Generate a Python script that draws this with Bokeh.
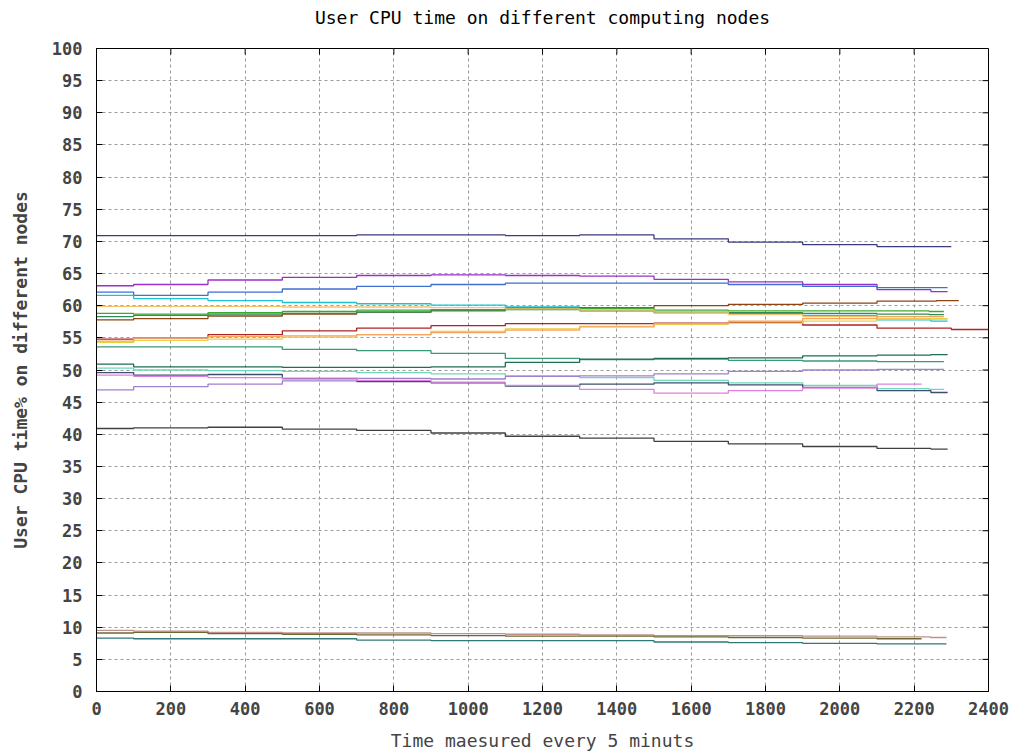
import math
from bokeh.plotting import figure
from bokeh.models import FixedTicker, Range1d, LinearAxis
from bokeh.embed import file_html
from bokeh.resources import INLINE

title_text = "User CPU time on different computing nodes"
x_label = "Time maesured every 5 minuts"
y_label = "User CPU time% on different nodes"

x_ticks = list(range(0, 2401, 200))
y_ticks = list(range(0, 101, 5))

# sample positions (minutes/5)
x_knots = [0, 200, 400, 600, 800, 1000, 1200, 1400, 1600, 1800, 2000, 2200]

node01 = [70.9, 70.9, 70.9, 70.9, 71.0, 71.0, 70.9, 71.0, 70.4, 69.9, 69.5, 69.2, 69.2]
node02 = [63.1, 63.3, 64.0, 64.4, 64.7, 64.8, 64.7, 64.6, 64.1, 63.7, 63.3, 62.5, 62.2]
node03 = [62.1, 61.6, 62.1, 62.6, 63.0, 63.3, 63.5, 63.5, 63.5, 63.3, 63.0, 62.8, 62.8]
node04 = [61.6, 61.1, 60.8, 60.5, 60.3, 60.1, 59.8, 59.3, 58.9, 58.8, 58.5, 57.8, 57.6]
node05 = [57.8, 58.0, 58.4, 58.7, 59.0, 59.3, 59.6, 59.7, 60.0, 60.2, 60.4, 60.7, 60.8]
node06 = [58.3, 58.5, 58.7, 58.8, 59.0, 59.2, 59.4, 59.2, 59.0, 58.9, 58.8, 58.7, 58.6]
node07 = [58.8, 58.7, 58.9, 59.1, 59.3, 59.4, 59.5, 59.6, 59.3, 59.2, 59.2, 59.2, 59.1]
node08 = [59.9, 59.9, 59.9, 59.8, 59.8, 59.7, 59.5, 59.3, 59.0, 58.6, 58.3, 58.0, 57.9]
node09 = [54.8, 55.0, 55.5, 56.1, 56.5, 56.9, 57.2, 57.2, 57.3, 57.4, 57.0, 56.5, 56.3]
node10 = [54.3, 54.6, 54.8, 55.1, 55.5, 56.0, 56.4, 56.8, 57.1, 57.3, 57.6, 57.9, 58.0]
node11 = [54.5, 55.0, 55.2, 55.3, 55.5, 55.8, 56.2, 56.7, 57.2, 57.6, 58.0, 58.3, 58.3]
node12 = [53.6, 53.6, 53.6, 53.2, 53.0, 52.6, 51.8, 51.6, 51.7, 51.5, 51.4, 51.3, 51.3]
node13 = [50.9, 50.5, 50.5, 50.4, 50.4, 50.5, 51.2, 51.7, 51.8, 51.9, 52.2, 52.3, 52.4]
node14 = [50.3, 50.0, 49.9, 49.8, 49.6, 49.4, 49.1, 48.8, 48.4, 48.0, 47.6, 47.1, 47.0]
node15 = [49.6, 49.2, 49.3, 48.7, 48.2, 48.0, 47.5, 47.8, 48.0, 47.7, 47.3, 46.8, 46.5]
node16 = [46.9, 47.4, 47.8, 48.3, 48.7, 48.6, 49.0, 49.1, 49.4, 49.8, 50.0, 50.1, 50.1]
node17 = [49.2, 49.0, 48.8, 48.6, 48.4, 48.1, 47.6, 47.0, 46.4, 46.8, 47.2, 47.8, 47.8]
node18 = [40.9, 41.0, 41.1, 40.8, 40.6, 40.2, 39.7, 39.4, 38.9, 38.5, 38.1, 37.8, 37.7]
node19 = [9.5, 9.4, 9.2, 9.1, 9.1, 9.0, 8.9, 8.8, 8.7, 8.7, 8.6, 8.5, 8.4]
node20 = [9.1, 9.2, 9.0, 8.9, 8.8, 8.7, 8.6, 8.6, 8.5, 8.4, 8.3, 8.2, 8.2]
node21 = [8.3, 8.2, 8.2, 8.2, 8.0, 7.9, 7.9, 7.9, 7.7, 7.6, 7.5, 7.4, 7.4]

series = [node01, node02, node03, node04, node05, node06, node07, node08, node09, node10, node11,
          node12, node13, node14, node15, node16, node17, node18, node19, node20, node21]
end_x = [2300, 2290, 2290, 2290, 2320, 2280, 2280, 2290, 2400, 2290, 2280,
         2280, 2290, 2280, 2290, 2280, 2220, 2290, 2287, 2220, 2287]
colors = ["#3b3b7d", "#9b30c8", "#3f6fd0", "#20c0d0", "#8b4513", "#2e8b57", "#3caa32", "#f5c56b",
          "#b22222", "#e8d040", "#f4a460", "#3a9a78", "#1f6f4f", "#70d8b8", "#3d4f6f", "#a080d0",
          "#e080e0", "#404040", "#c09090", "#6b6b30", "#307878"]

FONT = "DejaVu Sans Mono"

p = figure(width=1019, height=756, x_range=Range1d(0, 2400), y_range=Range1d(0, 100),
           output_backend="svg", toolbar_location=None,
           min_border_left=96, min_border_right=31, min_border_top=48, min_border_bottom=65)
p.background_fill_color = "white"
p.border_fill_color = "white"
p.outline_line_color = "black"
p.outline_line_width = 1

xa = p.below[0]
ya = p.left[0]

for ax in (xa, ya):
    ax.major_tick_in = 6
    ax.major_tick_out = 0
    ax.minor_tick_line_color = None
    ax.axis_line_color = "black"
    ax.major_tick_line_color = "black"
    ax.major_label_text_font = FONT
    ax.major_label_text_font_size = "17px"
    ax.major_label_text_font_style = "bold"
    ax.axis_label_text_font = FONT
    ax.axis_label_text_font_size = "18px"

xa.ticker = FixedTicker(ticks=x_ticks)
ya.ticker = FixedTicker(ticks=y_ticks)
xa.axis_label = x_label
ya.axis_label = y_label
xa.axis_label_text_font_style = "normal"
ya.axis_label_text_font_style = "bold"
xa.major_label_standoff = 10
xa.axis_label_standoff = 12
ya.major_label_standoff = 14
ya.axis_label_standoff = 18

# title carried by an empty top axis so its distance from the frame can be set
top = LinearAxis(ticker=FixedTicker(ticks=[]), axis_line_color=None,
                 major_tick_line_color=None, minor_tick_line_color=None,
                 major_tick_in=0, major_tick_out=0, minor_tick_in=0, minor_tick_out=0,
                 major_label_standoff=0,
                 axis_label=title_text, axis_label_text_font=FONT,
                 axis_label_text_font_size="18px", axis_label_text_font_style="normal",
                 axis_label_text_color="black", axis_label_standoff=21)
p.add_layout(top, "above")

p.xgrid.ticker = FixedTicker(ticks=x_ticks)
p.ygrid.ticker = FixedTicker(ticks=y_ticks)
p.grid.grid_line_color = "#9a9a9a"
p.grid.grid_line_dash = "3 3"
p.grid.grid_line_width = 1

# mirrored inward ticks on the right and top edges
p.ray(x=[2400] * len(y_ticks), y=y_ticks, length=6, length_units="screen",
      angle=math.pi, line_color="black", line_width=1)
p.ray(x=x_ticks, y=[100] * len(x_ticks), length=6, length_units="screen",
      angle=-math.pi / 2, line_color="black", line_width=1)

for vals, ex, c in zip(series, end_x, colors):
    xs = x_knots + [ex]
    p.step(xs, vals, mode="center", line_color=c, line_width=1.3)

open("out.html", "w").write(file_html(p, INLINE))
